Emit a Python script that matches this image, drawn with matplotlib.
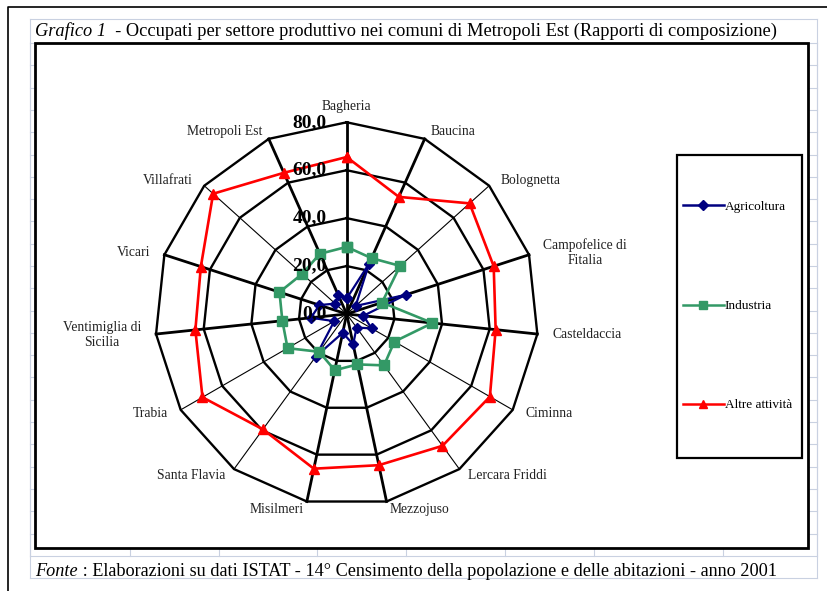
import numpy as np
import matplotlib
matplotlib.use('Agg')
import matplotlib.pyplot as plt
from matplotlib import transforms
from matplotlib.lines import Line2D
from matplotlib.patches import Rectangle

plt.rcParams['font.family'] = ['Liberation Serif', 'DejaVu Serif']

# dati: rapporti di composizione (%) per comune
categorie = ['Bagheria', 'Baucina', 'Bolognetta', 'Campofelice di\nFitalia',
             'Casteldaccia', 'Ciminna', 'Lercara Friddi', 'Mezzojuso',
             'Misilmeri', 'Santa Flavia', 'Trabia', 'Ventimiglia di\nSicilia',
             'Vicari', 'Villafrati', 'Metropoli Est']
agricoltura = [6.5, 23.0, 5.0, 26.0, 7.0, 12.0, 7.0, 13.0, 8.0, 22.0, 6.0, 15.0, 12.0, 6.5, 8.5]
industria = [28.0, 25.5, 30.0, 15.5, 36.0, 23.0, 26.5, 21.5, 24.0, 19.5, 28.5, 27.0, 29.5, 25.0, 27.5]
altre = [65.5, 53.5, 69.0, 64.5, 62.5, 69.0, 68.0, 64.5, 66.0, 59.5, 69.5, 63.5, 64.0, 75.0, 64.5]
serie = ['Agricoltura', 'Industria', 'Altre attività']
anelli = [20, 40, 60, 80]
etichette_anelli = ['0,0', '20,0', '40,0', '60,0', '80,0']

# stile
colori = ['#000080', '#339966', '#FF0000']
marker = ['D', 's', '^']
raggi_spessi = [True, True, False, True, True, False, False, True,
                True, False, False, True, True, False, True]

W, H = 827, 591
fig = plt.figure(figsize=(W / 100, H / 100), dpi=100)

# sfondo: foglio excel in coordinate pixel
bg = fig.add_axes([0, 0, 1, 1])
bg.set_xlim(0, W)
bg.set_ylim(H, 0)
bg.axis('off')

griglia = '#c9d1e1'
for y in np.arange(43, 580, 22.3):
    bg.plot([30, 817], [y, y], color=griglia, lw=0.8, zorder=1)
bg.plot([30, 817], [19, 19], color=griglia, lw=0.8, zorder=1)
for x in [30, 130, 219, 317, 406, 505, 594, 723, 817]:
    bg.plot([x, x], [43, 556], color=griglia, lw=0.8, zorder=1)
for x in [30, 817]:
    bg.plot([x, x], [19, 578], color=griglia, lw=0.8, zorder=1)

# cornice esterna
bg.plot([8, 8, W], [H, 7, 7], color='black', lw=1.2, zorder=2)

# area grafico e box legenda
bg.add_patch(Rectangle((35, 43), 773, 505, facecolor='white', edgecolor='black', lw=2.0, zorder=3))
bg.add_patch(Rectangle((677, 155), 125, 303, facecolor='white', edgecolor='black', lw=1.6, zorder=4))

# titolo e fonte
t1 = bg.text(35, 40, 'Grafico 1', style='italic', fontsize=13.2, va='bottom', zorder=5)
bg.annotate('  - Occupati per settore produttivo nei comuni di Metropoli Est (Rapporti di composizione)',
            xy=(1, 0), xycoords=t1, va='bottom', fontsize=13.2, annotation_clip=False)
t2 = bg.text(35, 580, 'Fonte', style='italic', fontsize=13.15, va='bottom', zorder=5)
bg.annotate(' : Elaborazioni su dati ISTAT - 14° Censimento della popolazione e delle abitazioni - anno 2001',
            xy=(1, 0), xycoords=t2, va='bottom', fontsize=13.15, annotation_clip=False)

# radar
cx, cy, R = 346.7, 314.0, 191.7
ax = fig.add_axes([(cx - R) / W, (H - cy - R) / H, 2 * R / W, 2 * R / H], projection='polar')
ax.set_zorder(5)
ax.patch.set_alpha(0)
ax.set_theta_zero_location('N')
ax.set_theta_direction(-1)
ax.set_ylim(0, 80)
ax.grid(False)
ax.set_xticks([])
ax.set_yticks([])
ax.spines['polar'].set_visible(False)

n = len(categorie)
ang = np.linspace(0, 2 * np.pi, n, endpoint=False)
ang_c = np.append(ang, ang[0])

for r in anelli:
    ax.plot(ang_c, [r] * (n + 1), color='black', lw=1.7, clip_on=False, zorder=1)
for a, spesso in zip(ang, raggi_spessi):
    ax.plot([a, a], [0, 80], color='black', lw=2.0 if spesso else 0.8, clip_on=False, zorder=1)

for vals, c, m in zip([agricoltura, industria, altre], colori, marker):
    v = np.append(vals, vals[0])
    ax.plot(ang_c, v, color=c, lw=1.9 if c != '#000080' else 1.6, marker=m,
            ms=6.5 if m != 'D' else 5.5, clip_on=False, zorder=3)

# etichette anelli
tr_lab = transforms.offset_copy(ax.transData, fig=fig, x=-20, y=0, units='dots')
for r, lab in zip([0] + anelli, etichette_anelli):
    ax.text(0, r, lab, transform=tr_lab, ha='right', va='center', fontsize=14,
            fontweight='bold', zorder=4)

# etichette categorie
for a, lab in zip(ang, categorie):
    s, c = np.sin(a), np.cos(a)
    dx, dy = 15 * s, 8 * c
    if abs(s) < 0.1:
        ha, va, dy = 'center', 'bottom', 9
    else:
        ha, va = ('left' if s > 0 else 'right'), 'center'
    tr = transforms.offset_copy(ax.transData, fig=fig, x=dx, y=dy, units='dots')
    ax.text(a, 80, lab, transform=tr, ha=ha, va=va, fontsize=9.8, multialignment='center',
            color='#222222')

# legenda
handles = [Line2D([], [], color=c, marker=m, lw=1.8, ms=6 if m != 'D' else 5)
           for c, m in zip(colori, marker)]
fig.legend(handles, serie, loc='center left', bbox_to_anchor=(683 / W, 1 - 306 / H),
           frameon=False, fontsize=9.5, labelspacing=6.6, handlelength=3.1,
           handletextpad=0.05, borderpad=0, borderaxespad=0, numpoints=1)

fig.savefig('out.png', dpi=100)
